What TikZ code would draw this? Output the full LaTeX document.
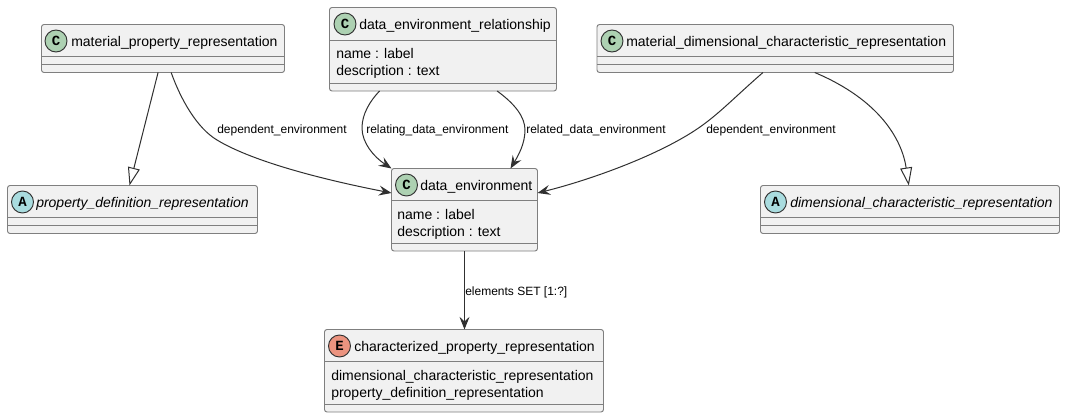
\documentclass[tikz,border=0pt]{standalone}
\usepackage{fontspec}
\setmainfont{Liberation Sans}
\newfontfamily\glyphfont{Liberation Mono}
\usetikzlibrary{arrows.meta}
\definecolor{boxfill}{HTML}{F1F1F1}
\definecolor{boxline}{HTML}{7F7F7F}
\definecolor{inkline}{HTML}{303030}
\definecolor{classc}{HTML}{ADD1B2}
\definecolor{classa}{HTML}{A9DCDF}
\definecolor{classe}{HTML}{EB937F}
\tikzset{
  x=0.75pt,y=-0.75pt,
  umlbox/.style={draw=boxline,fill=boxfill,line width=0.7pt,rounded corners=1.9pt,inner sep=0pt,outer sep=0pt,anchor=north west},
  sep/.style={draw=boxline,line width=0.7pt},
  badge/.style={circle,draw=inkline,line width=0.7pt,minimum size=16.5pt,inner sep=0pt,font=\glyphfont\bfseries\fontsize{10.5}{10.5}\selectfont},
  title/.style={anchor=base west,inner sep=0pt,font=\fontsize{10.5}{12}\selectfont},
  ititle/.style={title,font=\fontsize{10.5}{12}\itshape\selectfont},
  attr/.style={title},
  edgelabel/.style={anchor=base west,inner sep=0pt,font=\fontsize{9}{11}\selectfont},
  assoc/.style={draw=inkline,line width=0.75pt,-{Stealth[length=9.5pt,width=7.5pt,inset=3.5pt]}},
  inherit/.style={draw=inkline,line width=0.75pt,-{Triangle[open,length=13.5pt,width=9pt,fill=white]}}
}
\newcommand{\umlnode}[5]{% name, x1, y1, x2, y2
  \node[umlbox,minimum width=\fpeval{(#4-#2)*0.75}pt,minimum height=\fpeval{(#5-#3)*0.75}pt] (#1) at (#2,#3) {};}
\newcommand{\seps}[4]{% x1,x2,y1,y2
  \draw[sep] (#1,#3) -- (#2,#3); \draw[sep] (#1,#4) -- (#2,#4);}
\begin{document}
\begin{tikzpicture}
\useasboundingbox (0,0) rectangle (1065,418);
\fill[white] (0,0) rectangle (1065,418);

% connectors first are drawn after the boxes
\umlnode{mpr}{41.5}{24.5}{284.5}{72.5}
\seps{41.5}{284.5}{56.5}{64.5}
\node[badge,fill=classc] (mprb) at (56,41) {C};
\node[title] (mprt) at (71,46) {material\_property\_representation};

\umlnode{pdr}{7.5}{185.5}{257.5}{233.5}
\seps{7.5}{257.5}{217.5}{225.5}
\node[badge,fill=classa] (pdrb) at (22.5,202) {A};
\node[ititle] (pdrt) at (36,207) {property\_definition\_representation};

\umlnode{der}{329.5}{7.5}{556.5}{91}
\seps{329.5}{556.5}{40}{83}
\node[badge,fill=classc] (derb) at (345,24) {C};
\node[title] (dert) at (359,29) {data\_environment\_relationship};
\node[attr] (dera) at (336,58) {name : label};
\node[attr] (derd) at (336,75) {description : text};

\umlnode{mdc}{597}{24.5}{953.5}{72.5}
\seps{597}{953.5}{56.5}{64.5}
\node[badge,fill=classc] (mdcb) at (612,41) {C};
\node[title] (mdct) at (626,46) {material\_dimensional\_characteristic\_representation};

\umlnode{dcr}{760.5}{185.5}{1059.5}{233.5}
\seps{760.5}{1059.5}{217.5}{225.5}
\node[badge,fill=classa] (dcrb) at (775.5,202) {A};
\node[ititle] (dcrt) at (790,207) {dimensional\_characteristic\_representation};

\umlnode{den}{391.5}{168.5}{537.5}{251}
\seps{391.5}{537.5}{200.5}{243.5}
\node[badge,fill=classc] (denb) at (406.5,185) {C};
\node[title] (dent) at (420,190) {data\_environment};
\node[attr] (dena) at (397,219) {name : label};
\node[attr] (dend) at (397,236) {description : text};

\umlnode{cpr}{324.5}{329.5}{603.5}{412}
\seps{324.5}{603.5}{361.5}{404.5}
\node[badge,fill=classe] (cprb) at (339.5,346) {E};
\node[title] (cprt) at (354,351) {characterized\_property\_representation};
\node[attr] (cpra) at (331,380) {dimensional\_characteristic\_representation};
\node[attr] (cprd) at (331,397) {property\_definition\_representation};

% connectors
\draw[inherit] ([xshift=-3.7pt]mpr.south) -- ([xshift=-2.25pt]pdr.north);
\draw[assoc] ([xshift=6.1pt]mpr.south) .. controls (181,100) and (197,128) .. (217,140)
   .. controls (255,163) and (330,181) .. (den.west |- 0,193);
\draw[assoc] ([xshift=-47.6pt]der.south) .. controls (370,101) and (362,114) .. (362,128)
   .. controls (362,143) and (374,157) .. (den.north west);
\draw[assoc] ([xshift=40.6pt]der.south) .. controls (515,104) and (525,117) .. (525,130)
   .. controls (525,144) and (518,156) .. ([xshift=34.5pt]den.north);
\draw[assoc] ([xshift=-9.2pt]mdc.south) .. controls (737,95) and (720,113) .. (700,127)
   .. controls (660,155) and (590,180) .. (den.east |- 0,193);
\draw[inherit] ([xshift=29.6pt]mdc.south) .. controls (880,100) and (902,140) .. ([xshift=-0.9pt]dcr.north);
\draw[assoc] (den.south) -- (cpr.north -| den.south);

\node[edgelabel] (l1) at (217,133) {dependent\_environment};
\node[edgelabel] (l2) at (366,133) {relating\_data\_environment};
\node[edgelabel] (l3) at (526,133) {related\_data\_environment};
\node[edgelabel] (l4) at (706,133) {dependent\_environment};
\node[edgelabel] (l5) at (465,295) {elements SET [1:?]};
\end{tikzpicture}
\end{document}
